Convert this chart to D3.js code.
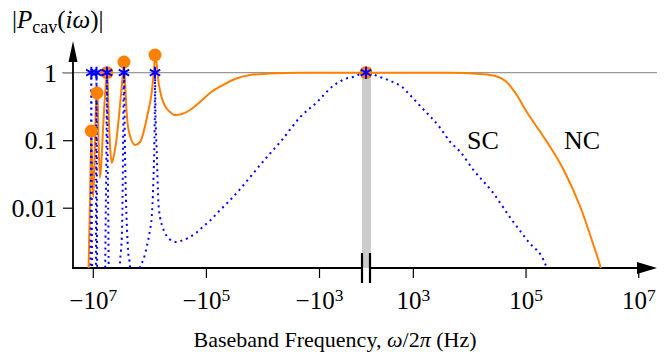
<!DOCTYPE html>
<html><head><meta charset="utf-8">
<script src="https://cdn.jsdelivr.net/npm/d3@7"></script>
<style>
body{margin:0;background:#fff}
svg{display:block}
text{font-family:'Liberation Serif','DejaVu Serif',serif;fill:#000}
</style>
</head><body>
<svg id="c" width="670" height="358"></svg>
<script>
// ---------------- data ----------------
// NC (orange, solid): [frequency Hz, |P|]
const ncFreq = [-1.19e7,-1.12e7,-1.076e7,-1.062e7,-1.042e7,-1.012e7,-9.80e6,-9.33e6,-8.96e6,-8.60e6,-8.43e6,-8.22e6,-7.93e6,-7.46e6,-7.02e6,-6.60e6,-6.08e6,-5.72e6,-5.61e6,-5.47e6,-5.27e6,-4.96e6,-4.63e6,-4.22e6,-3.73e6,-3.30e6,-2.98e6,-2.81e6,-2.70e6,-2.59e6,-2.48e6,-2.20e6,-1.79e6,-1.46e6,-1.10e6,-8.98e5,-8.28e5,-7.94e5,-7.47e5,-7.03e5,-6.22e5,-5.29e5,-4.31e5,-3.52e5,-2.65e5,-1.91e5,-1.27e5,-8.46e4,-4.99e4,-3.06e4,-1.66e4,-7.36e3,-2.17e3,-251,0,262,4.62e3,1.58e4,2.92e4,4.40e4,6.63e4,1.0e5,2.27e5,4.75e5,9.53e5,1.56e6,2.16e6,2.45e6];
const ncMag  = [1.19e-3,0.0130,0.0849,0.137,0.0716,0.0217,0.0144,0.0509,0.199,0.467,0.50,0.394,0.101,0.0276,0.0509,0.1416,0.467,0.864,1.0,0.780,0.280,0.0849,0.0460,0.0604,0.119,0.332,0.835,1.44,0.780,0.394,0.213,0.117,0.0849,0.094,0.221,0.554,1.096,1.83,1.44,0.835,0.467,0.321,0.262,0.236,0.244,0.280,0.368,0.50,0.657,0.807,0.924,0.973,1.0,1.0,1.0,1.0,1.0,0.957,0.894,0.753,0.50,0.280,0.101,0.0362,0.0099,0.0030,0.00128,8.5e-4];

// SC (blue, dotted): [frequency Hz, |P|]
const scFreq = [-1.102e7,-1.076e7,-1.062e7,-1.050e7,-1.024e7,-8.88e6,-8.71e6,-8.60e6,-8.50e6,-8.29e6,-6.16e6,-5.89e6,-5.72e6,-5.61e6,-5.50e6,-5.34e6,-5.17e6,-3.44e6,-3.30e6,-3.17e6,-3.04e6,-2.98e6,-2.92e6,-2.81e6,-2.70e6,-2.59e6,-2.48e6,-2.38e6,-2.20e6,-2.11e6,-1.555e6,-1.46e6,-1.279e6,-1.114e6,-9.74e5,-9.09e5,-8.51e5,-8.01e5,-7.94e5,-7.78e5,-7.41e5,-6.95e5,-6.48e5,-5.90e5,-5.29e5,-4.44e5,-3.28e5,-2.51e5,-1.91e5,-1.50e5,-1.19e5,-9.45e4,-7.58e4,-6.04e4,-4.93e4,-4.02e4,-8.31e3,-4.51e3,-2.17e3,-1.085e3,-566,-443,-347,-251,0,262,363,484,645,792,1.35e3,3.06e3,4.62e3,6.96e3,1.19e4,2.60e4,5.40e4,1.10e5,2.27e5,2.79e5];
const scMag  = [5e-4,0.05,1,0.05,5e-4,5e-4,0.05,1,0.05,5e-4,5e-4,0.01,0.1,1,0.1,0.01,5e-4,6e-4,0.00157,0.00236,0.00467,0.013,0.0716,1,0.0716,0.013,0.00467,0.00236,0.00132,6e-4,6e-4,0.00132,0.00168,0.00262,0.00467,0.00728,0.0232,0.25,1,0.25,0.0716,0.013,0.00728,0.00536,0.00422,0.00344,0.0031,0.00332,0.00368,0.00422,0.0050,0.00593,0.00704,0.00864,0.01024,0.01215,0.0564,0.101,0.2185,0.368,0.635,0.728,0.807,0.864,1,0.864,0.780,0.704,0.614,0.518,0.321,0.1516,0.094,0.0669,0.0362,0.0170,0.00704,0.00320,0.00142,8e-4];

// resonance markers
const ncPeakFreq = [-1.062e7,-8.43e6,-5.61e6,-2.81e6,-7.94e5,0];
const ncPeakMag  = [0.137,0.50,1.0,1.44,1.83,1.0];
const scPeakFreq = [-1.062e7,-8.60e6,-5.61e6,-2.81e6,-7.94e5,0];
const scPeakMag  = [1,1,1,1,1,1];

// ticks
const xTickValues = [-1e7,-1e5,-1e3,1e3,1e5,1e7];
const xTickLabels = [["\u221210","7"],["\u221210","5"],["\u221210","3"],["10","3"],["10","5"],["10","7"]];
const yTickValues = [1,0.1,0.01];
const yTickLabels = ["1","0.1","0.01"];
const seriesLabels = ["SC","NC"];

// ---------------- scales ----------------
const fBreak = Math.pow(10,2.24), fMax = Math.pow(10,7.35);
const xNeg = d3.scaleLog().domain([fMax,fBreak]).range([73,362]);
const xMid = d3.scaleLinear().domain([-fBreak,fBreak]).range([362,370]);
const xPos = d3.scaleLog().domain([fBreak,fMax]).range([370,658]);
function x(f){ if(f < -fBreak) return xNeg(-f); if(f > fBreak) return xPos(f); return xMid(f); }
x.domain = () => [-fMax,fMax];
x.range = () => [73,658];
x.copy = () => x;

const y = d3.scaleLog().domain([0.01,1]).range([207.7,72.7]);
const yBottom = 268;

const svg = d3.select('#c');
const defs = svg.append('defs');
defs.append('clipPath').attr('id','clip').append('rect')
  .attr('x',73).attr('y',20).attr('width',590).attr('height',yBottom-20);

// gray band over the break
svg.append('rect').attr('x',x(-fBreak)).attr('y',y(1)-6)
  .attr('width',x(fBreak)-x(-fBreak)+1).attr('height',yBottom-(y(1)-6))
  .attr('fill','#cccccc');

// reference line at 1
svg.append('line').attr('x1',62).attr('x2',657).attr('y1',y(1)).attr('y2',y(1))
  .attr('stroke','#999').attr('stroke-width',1.2);

// y axis
const yAxis = d3.axisLeft(y).tickValues(yTickValues).tickSizeInner(10).tickSizeOuter(0).tickPadding(6)
  .tickFormat((d,i)=>yTickLabels[i]);
const gy = svg.append('g').attr('transform','translate(73,0)').call(yAxis);
gy.select('.domain').remove();
gy.selectAll('.tick line').attr('stroke',(d)=> d===1 ? '#999' : '#000').attr('stroke-width',1.2);
gy.selectAll('.tick text').attr('font-size',26).attr('font-family',"'Liberation Serif',serif").attr('dy','0.33em');

// x axis
const xAxis = d3.axisBottom(x).tickValues(xTickValues).tickSizeInner(10).tickSizeOuter(0);
const gx = svg.append('g').attr('transform',`translate(0,${yBottom})`).call(xAxis);
gx.select('.domain').remove();
gx.selectAll('.tick line').attr('stroke','#000').attr('stroke-width',1.2);
gx.selectAll('.tick text').each(function(d,i){
  const t = d3.select(this).text(null).attr('y',41).attr('dy',null)
    .attr('font-size',25).attr('font-family',"'Liberation Serif',serif");
  t.append('tspan').text(xTickLabels[i][0]);
  t.append('tspan').attr('dy','-0.45em').attr('font-size','0.7em').text(xTickLabels[i][1]);
});

// axis lines
svg.append('line').attr('x1',73).attr('x2',73).attr('y1',yBottom+1).attr('y2',55)
  .attr('stroke','#000').attr('stroke-width',1.8);
svg.append('path').attr('d','M73,41 L68.5,62 L77.5,62 Z').attr('fill','#000');
svg.append('line').attr('x1',72).attr('x2',x(-fBreak)).attr('y1',yBottom).attr('y2',yBottom)
  .attr('stroke','#000').attr('stroke-width',1.8);
svg.append('line').attr('x1',x(fBreak)).attr('x2',645).attr('y1',yBottom).attr('y2',yBottom)
  .attr('stroke','#000').attr('stroke-width',1.8);
svg.append('path').attr('d',`M657,${yBottom} L637,${yBottom-6} L637,${yBottom+6} Z`).attr('fill','#000');

// break marks
[x(-fBreak), x(fBreak)].forEach(bx=>{
  svg.append('line').attr('x1',bx).attr('x2',bx).attr('y1',yBottom-15).attr('y2',yBottom+15)
    .attr('stroke','#000').attr('stroke-width',2.2);
});

// curves
const line = d3.line().x(d=>x(d[0])).y(d=>y(d[1])).curve(d3.curveMonotoneX);
const plot = svg.append('g').attr('clip-path','url(#clip)');
plot.append('path').datum(ncFreq.map((f,i)=>[f,ncMag[i]])).attr('d',line)
  .attr('fill','none').attr('stroke','#ff8000').attr('stroke-width',2);
plot.append('path').datum(scFreq.map((f,i)=>[f,scMag[i]])).attr('d',line)
  .attr('fill','none').attr('stroke','#0000ff').attr('stroke-width',2).attr('stroke-dasharray','2,4');

// markers
svg.append('g').selectAll('circle').data(ncPeakFreq.map((f,i)=>[f,ncPeakMag[i]])).join('circle')
  .attr('cx',d=>x(d[0])).attr('cy',d=>y(d[1])).attr('r',6.5).attr('fill','#ff8000');
const s = 6;
const starPath = [90,30,150].map(a=>{
  const r=a*Math.PI/180, dx=s*Math.cos(r), dy=-s*Math.sin(r);
  return `M${-dx},${-dy}L${dx},${dy}`;}).join('');
svg.append('g').selectAll('path').data(scPeakFreq.map((f,i)=>[f,scPeakMag[i]])).join('path')
  .attr('transform',d=>`translate(${x(d[0])},${y(d[1])})`).attr('d',starPath)
  .attr('stroke','#0000ff').attr('stroke-width',2).attr('fill','none');

// series labels
svg.append('text').attr('x',467).attr('y',149).attr('font-size',26).text(seriesLabels[0]);
svg.append('text').attr('x',564).attr('y',149).attr('font-size',26).text(seriesLabels[1]);

// y label |P_cav(iω)|
const yl = svg.append('text').attr('x',12).attr('y',28).attr('font-size',25);
yl.append('tspan').text('|');
yl.append('tspan').attr('font-style','italic').text('P');
yl.append('tspan').attr('dy','0.3em').attr('font-size','0.72em').text('cav');
yl.append('tspan').attr('dy','-0.216em').text('(');
yl.append('tspan').attr('font-style','italic').text('iω');
yl.append('tspan').text(')|');

// x title
const xt = svg.append('text').attr('x',335).attr('y',347).attr('text-anchor','middle').attr('font-size',22);
xt.append('tspan').text('Baseband Frequency, ');
xt.append('tspan').attr('font-style','italic').text('ω');
xt.append('tspan').text('/2');
xt.append('tspan').attr('font-style','italic').text('π');
xt.append('tspan').text(' (Hz)');
</script>
</body></html>
